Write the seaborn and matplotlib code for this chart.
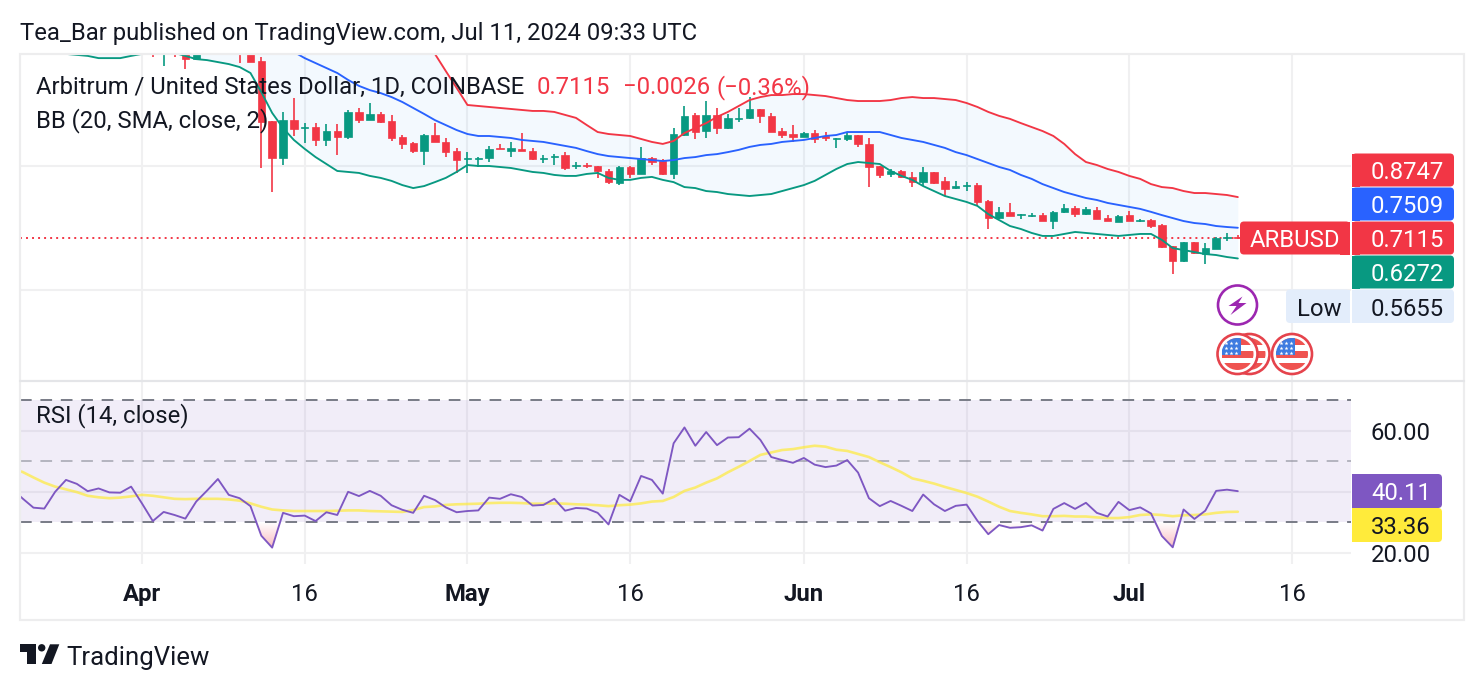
import numpy as np
import pandas as pd
import seaborn as sns
import matplotlib
matplotlib.use("Agg")
import matplotlib.pyplot as plt
import matplotlib.dates as mdates
from matplotlib.colors import LinearSegmentedColormap
from matplotlib.patches import Circle, FancyBboxPatch, PathPatch, Polygon, Rectangle
from matplotlib.path import Path

# Daily ARB/USD candles, 2 Apr 2024 to 11 Jul 2024 (early highs run off the top of the pane)
opens = [1.56, 1.47, 1.53, 1.50, 1.431, 1.50, 1.52, 1.49, 1.57, 1.50,
         1.423, 1.181, 1.032, 1.185, 1.153, 1.157, 1.105, 1.141, 1.117, 1.218,
         1.185, 1.210, 1.181, 1.117, 1.093, 1.060, 1.125, 1.097, 1.060, 1.028,
         1.028, 1.032, 1.073, 1.060, 1.069, 1.060, 1.028, 1.036, 1.044, 1.000,
         1.004, 1.000, 0.980, 0.931, 0.996, 0.968, 1.032, 1.020, 0.968, 1.125,
         1.206, 1.141, 1.206, 1.153, 1.190, 1.194, 1.230, 1.202, 1.141, 1.129,
         1.117, 1.133, 1.121, 1.109, 1.109, 1.125, 1.089, 1.000, 0.968, 0.980,
         0.956, 0.935, 0.976, 0.940, 0.911, 0.919, 0.923, 0.859, 0.790, 0.815,
         0.802, 0.798, 0.802, 0.778, 0.815, 0.831, 0.806, 0.823, 0.790, 0.774,
         0.802, 0.778, 0.782, 0.762, 0.677, 0.617, 0.694, 0.645, 0.665, 0.711, 0.7141]
highs = [1.60, 1.55, 1.57, 1.55, 1.53, 1.56, 1.58, 1.60, 1.65, 1.53,
         1.439, 1.181, 1.218, 1.274, 1.173, 1.173, 1.169, 1.169, 1.226, 1.234,
         1.254, 1.218, 1.206, 1.125, 1.097, 1.129, 1.173, 1.113, 1.073, 1.056,
         1.036, 1.081, 1.089, 1.097, 1.133, 1.073, 1.044, 1.048, 1.056, 1.016,
         1.012, 1.000, 0.988, 1.000, 1.000, 1.077, 1.036, 1.028, 1.153, 1.242,
         1.214, 1.262, 1.234, 1.210, 1.234, 1.278, 1.230, 1.214, 1.153, 1.165,
         1.137, 1.145, 1.137, 1.113, 1.137, 1.125, 1.113, 1.000, 0.988, 0.984,
         0.976, 0.996, 0.976, 0.956, 0.940, 0.935, 0.931, 0.863, 0.835, 0.851,
         0.806, 0.811, 0.811, 0.819, 0.847, 0.839, 0.835, 0.835, 0.802, 0.802,
         0.819, 0.786, 0.786, 0.766, 0.677, 0.694, 0.694, 0.690, 0.714, 0.730, 0.722]
lows = [1.439, 1.403, 1.439, 1.391, 1.431, 1.47, 1.46, 1.47, 1.415, 1.419,
        0.992, 0.895, 1.004, 1.121, 1.093, 1.081, 1.081, 1.044, 1.109, 1.173,
        1.185, 1.173, 1.101, 1.069, 1.052, 1.004, 1.097, 1.036, 0.972, 0.972,
        0.996, 1.016, 1.069, 1.036, 1.060, 1.024, 1.012, 1.004, 0.984, 0.988,
        0.992, 0.952, 0.927, 0.923, 0.952, 0.968, 1.004, 0.964, 0.948, 1.121,
        1.109, 1.113, 1.129, 1.149, 1.177, 1.190, 1.173, 1.137, 1.113, 1.097,
        1.117, 1.093, 1.101, 1.073, 1.101, 1.077, 0.915, 0.952, 0.956, 0.952,
        0.915, 0.919, 0.927, 0.879, 0.907, 0.899, 0.839, 0.746, 0.786, 0.798,
        0.786, 0.794, 0.778, 0.746, 0.811, 0.794, 0.802, 0.786, 0.778, 0.774,
        0.778, 0.774, 0.750, 0.669, 0.5655, 0.613, 0.645, 0.605, 0.665, 0.698, 0.706]
closes = [1.49, 1.53, 1.47, 1.431, 1.50, 1.52, 1.49, 1.57, 1.50, 1.42,
          1.177, 1.032, 1.185, 1.149, 1.157, 1.105, 1.141, 1.117, 1.218, 1.185,
          1.210, 1.177, 1.113, 1.089, 1.060, 1.125, 1.097, 1.056, 1.024, 1.032,
          1.032, 1.069, 1.069, 1.073, 1.060, 1.028, 1.032, 1.040, 0.992, 1.004,
          1.000, 0.980, 0.935, 0.996, 0.968, 1.032, 1.016, 0.968, 1.129, 1.202,
          1.137, 1.206, 1.153, 1.194, 1.194, 1.230, 1.202, 1.137, 1.125, 1.117,
          1.133, 1.109, 1.113, 1.113, 1.125, 1.089, 0.996, 0.964, 0.980, 0.956,
          0.935, 0.976, 0.931, 0.907, 0.919, 0.923, 0.855, 0.790, 0.815, 0.798,
          0.806, 0.802, 0.778, 0.815, 0.831, 0.806, 0.827, 0.786, 0.778, 0.798,
          0.778, 0.782, 0.758, 0.673, 0.617, 0.694, 0.649, 0.669, 0.710, 0.7141, 0.7115]

# Bollinger bands, all series end on 11 Jul; the start of each is off-pane where it runs high
bb_upper = [1.72, 1.72, 1.73, 1.73, 1.74, 1.74, 1.75, 1.75, 1.76, 1.76,
            1.76, 1.76, 1.76, 1.76, 1.76, 1.75, 1.75, 1.74, 1.74, 1.73,
            1.72, 1.71, 1.70, 1.69, 1.68, 1.67, 1.66, 1.65, 1.63, 1.62,
            1.60, 1.57, 1.53, 1.49,
            1.452, 1.383, 1.315, 1.246, 1.242, 1.238, 1.234, 1.230, 1.226, 1.222,
            1.222, 1.218, 1.206, 1.194, 1.165, 1.137, 1.129, 1.125, 1.121, 1.109,
            1.097, 1.089, 1.101, 1.133, 1.153, 1.173, 1.198, 1.218, 1.242, 1.266,
            1.278, 1.286, 1.286, 1.290, 1.290, 1.286, 1.282, 1.274, 1.266, 1.262,
            1.262, 1.262, 1.266, 1.274, 1.278, 1.274, 1.274, 1.270, 1.266, 1.254,
            1.238, 1.218, 1.202, 1.190, 1.173, 1.157, 1.141, 1.121, 1.089, 1.048,
            1.016, 1.004, 0.988, 0.976, 0.960, 0.948, 0.927, 0.915, 0.911, 0.899,
            0.891, 0.891, 0.887, 0.883, 0.8747]
bb_middle = [1.62, 1.62, 1.61, 1.61, 1.60, 1.60, 1.60, 1.59, 1.59, 1.59,
             1.58, 1.58, 1.57, 1.57, 1.56, 1.55, 1.54, 1.53, 1.51, 1.50, 1.48,
             1.460, 1.435, 1.415, 1.395, 1.375, 1.347, 1.323, 1.306, 1.294, 1.278,
             1.258, 1.234, 1.210, 1.185, 1.165, 1.145, 1.129, 1.121, 1.121, 1.117,
             1.113, 1.105, 1.101, 1.097, 1.089, 1.081, 1.073, 1.060, 1.048, 1.040,
             1.036, 1.032, 1.028, 1.024, 1.020, 1.024, 1.032, 1.036, 1.044, 1.048,
             1.056, 1.065, 1.077, 1.085, 1.089, 1.097, 1.101, 1.105, 1.113, 1.121,
             1.125, 1.137, 1.137, 1.137, 1.137, 1.125, 1.113, 1.105, 1.097, 1.085,
             1.073, 1.056, 1.044, 1.028, 1.012, 0.996, 0.984, 0.964, 0.948, 0.927,
             0.911, 0.895, 0.883, 0.871, 0.863, 0.851, 0.843, 0.835, 0.827, 0.815,
             0.802, 0.790, 0.778, 0.770, 0.766, 0.758, 0.754, 0.7509]
bb_lower = [1.452, 1.448, 1.444, 1.435, 1.435, 1.435, 1.444, 1.452, 1.460, 1.464,
            1.456, 1.444, 1.431, 1.427, 1.419, 1.411, 1.399, 1.375, 1.298, 1.214,
            1.153, 1.105, 1.069, 1.036, 1.008, 0.980, 0.976, 0.972, 0.960, 0.952,
            0.940, 0.923, 0.911, 0.919, 0.935, 0.952, 0.976, 1.004, 1.000, 1.000,
            0.996, 0.992, 0.984, 0.976, 0.972, 0.964, 0.960, 0.960, 0.968, 0.972,
            0.952, 0.944, 0.944, 0.952, 0.956, 0.944, 0.935, 0.915, 0.911, 0.899,
            0.895, 0.887, 0.883, 0.879, 0.883, 0.887, 0.899, 0.911, 0.923, 0.940,
            0.964, 0.988, 1.008, 1.016, 1.012, 1.008, 0.980, 0.960, 0.944, 0.919,
            0.899, 0.879, 0.867, 0.855, 0.839, 0.806, 0.782, 0.758, 0.746, 0.730,
            0.718, 0.718, 0.726, 0.734, 0.730, 0.726, 0.722, 0.718, 0.722, 0.726,
            0.726, 0.702, 0.669, 0.661, 0.653, 0.645, 0.641, 0.633, 0.6272]

# RSI(14) and its moving average from 20 Mar 2024
rsi_values = [41.0, 37.7, 34.7, 34.4, 39.9, 43.8, 42.5, 40.1, 41.0, 39.7, 39.6, 41.6,
              36.1, 30.3, 33.3, 32.3, 31.1, 36.7, 40.3, 44.1, 38.9, 37.8, 35.2, 25.5,
              21.6, 33.0, 31.9, 32.1, 30.3, 33.2, 32.3, 39.9, 38.5, 40.2, 38.6, 35.5,
              34.0, 33.0, 38.6, 37.2, 34.8, 33.2, 33.6, 33.8, 38.0, 37.6, 39.1, 38.2,
              35.4, 35.6, 37.6, 33.7, 34.6, 34.4, 33.0, 29.2, 38.9, 36.8, 45.1, 43.8,
              39.3, 55.8, 61.0, 55.0, 59.5, 55.2, 57.7, 57.8, 60.6, 56.9, 51.3, 50.3,
              49.4, 51.0, 48.8, 48.0, 48.5, 50.3, 46.2, 37.8, 35.2, 36.9, 35.3, 33.6,
              39.0, 35.8, 33.6, 35.3, 35.7, 30.4, 26.0, 29.0, 28.1, 28.3, 28.9, 27.2,
              34.3, 36.2, 34.3, 36.3, 33.0, 31.8, 36.6, 33.9, 34.8, 32.8, 25.4, 21.7,
              34.1, 31.0, 33.7, 40.2, 40.6, 40.11]
rsi_ma = [47.4, 46.4, 44.6, 42.9, 41.6, 40.7, 39.8, 38.6, 38.1, 37.8, 38.0, 38.4,
          38.9, 38.6, 38.1, 37.6, 37.5, 37.6, 37.6, 37.6, 37.4, 37.0, 36.1, 35.0,
          34.1, 33.8, 33.6, 33.6, 33.6, 33.6, 33.7, 33.8, 33.8, 33.6, 33.5, 33.4,
          33.3, 33.9, 34.9, 35.1, 35.6, 35.8, 35.9, 36.0, 36.2, 36.3, 36.3, 36.2,
          36.0, 36.0, 36.1, 36.0, 35.8, 35.7, 35.5, 35.2, 35.5, 35.7, 36.1, 36.7,
          36.9, 38.2, 40.2, 41.3, 42.9, 44.3, 46.3, 48.1, 50.0, 52.0, 52.8, 53.6,
          53.9, 54.5, 55.0, 54.7, 53.7, 53.3, 52.3, 51.3, 49.6, 48.0, 46.3, 44.3,
          43.5, 42.6, 41.5, 40.5, 39.5, 38.3, 36.7, 35.0, 33.6, 33.0, 32.5, 31.9,
          31.9, 32.0, 31.8, 31.8, 31.5, 31.3, 31.3, 31.6, 32.3, 32.5, 32.3, 31.9,
          32.2, 32.3, 32.5, 33.0, 33.3, 33.36]

last_close = 0.7115
rsi_bands = [70, 50, 30]
rsi_grid = [20, 40, 60]
price_grid = [0.5, 1.0]
tick_dates = ["2024-04-01", "2024-04-16", "2024-05-01", "2024-05-16",
              "2024-06-01", "2024-06-16", "2024-07-01", "2024-07-16"]
tick_labels = ["Apr", "16", "May", "16", "Jun", "16", "Jul", "16"]

RED = "#F23645"
GREEN = "#089981"
BLUE = "#2962FF"
PURPLE = "#7E57C2"
YELLOW = "#FFEB3B"
INK = "#131722"
GRID = "#F0F0F1"
FRAME = "#EDEDEE"
TEXT_SIZE = 17.2

sns.set_theme(style="white", rc={"axes.grid": False})
plt.rcParams["font.family"] = ["Roboto", "DejaVu Sans"]


def tail_series(values, index):
    """Align a list that ends on the last session to the full date index."""
    return pd.Series(values, index=index[-len(values):], dtype=float).reindex(index)


days = pd.date_range("2024-03-20", "2024-07-11", freq="D")
df = pd.DataFrame({
    "date": days,
    "open": tail_series(opens, days).values,
    "high": tail_series(highs, days).values,
    "low": tail_series(lows, days).values,
    "close": tail_series(closes, days).values,
    "bb_upper": tail_series(bb_upper, days).values,
    "bb_middle": tail_series(bb_middle, days).values,
    "bb_lower": tail_series(bb_lower, days).values,
    "rsi": tail_series(rsi_values, days).values,
    "rsi_ma": tail_series(rsi_ma, days).values,
})

W, H = 1484, 690
fig = plt.figure(figsize=(W / 100, H / 100), dpi=100, facecolor="white")


def pane(x0, y0, x1, y1):
    return fig.add_axes([x0 / W, 1 - y1 / H, (x1 - x0) / W, (y1 - y0) / H])


ax_price = pane(20, 54, 1351, 380)
ax_rsi = pane(20, 382, 1351, 564)

x_left = mdates.date2num(pd.Timestamp("2024-04-01")) - 11.24
x_right = mdates.date2num(pd.Timestamp("2024-04-01")) + 111.43
ticks = mdates.date2num(pd.to_datetime(tick_dates))

for ax in (ax_price, ax_rsi):
    for spine in ax.spines.values():
        spine.set_visible(False)
    ax.set_axisbelow(True)
    ax.grid(True, color=GRID, lw=1.5)
    ax.set_xticks(ticks)

# Price pane: bands first, candles, then band lines on top
ax_price.fill_between(df["date"], df["bb_lower"], df["bb_upper"], color="#2196F3", alpha=0.05, lw=0, zorder=1)
ax_price.axhline(last_close, color=RED, lw=1.4, ls=(0, (1.0, 2.1)), zorder=2)

candles = df.dropna(subset=["open"])
rising = candles[candles["close"] >= candles["open"]]
falling = candles[candles["close"] < candles["open"]]
for part, colour in ((rising, GREEN), (falling, RED)):
    ax_price.vlines(part["date"], part["low"], part["high"], color=colour, lw=1.2, zorder=3)
    ax_price.bar(part["date"], (part["close"] - part["open"]).abs(),
                 bottom=part[["open", "close"]].min(axis=1), width=0.68,
                 color=colour, edgecolor=colour, lw=0.5, zorder=4)

for column, colour in (("bb_upper", RED), ("bb_middle", BLUE), ("bb_lower", GREEN)):
    sns.lineplot(data=df, x="date", y=column, color=colour, lw=1.35, ax=ax_price, zorder=5, errorbar=None)

ax_price.set_xlim(x_left, x_right)
ax_price.set_ylim(1 + (166 - 380) / 248, 1 + (166 - 54) / 248)
ax_price.set_yticks(price_grid)
ax_price.tick_params(labelbottom=False, labelleft=False, length=0)
ax_price.set_xlabel("")
ax_price.set_ylabel("")

# RSI pane
ax_rsi.axhspan(rsi_bands[2], rsi_bands[0], color=PURPLE, alpha=0.1, lw=0, zorder=1)
ax_rsi.axhline(rsi_bands[0], color="#787B86", lw=1.4, ls=(0, (6, 4.5)), zorder=2)
ax_rsi.axhline(rsi_bands[1], color="#787B86", alpha=0.5, lw=1.4, ls=(0, (6, 4.5)), zorder=2)
ax_rsi.axhline(rsi_bands[2], color="#787B86", lw=1.4, ls=(0, (6, 4.5)), zorder=2)

# Oversold dips shaded with a soft vertical gradient, deepest at the bottom
dip = ax_rsi.fill_between(df["date"], df["rsi"], rsi_bands[2], where=df["rsi"] < rsi_bands[2],
                          interpolate=True, facecolor="none", lw=0)
dip_path = Path.make_compound_path(*dip.get_paths())
dip_cmap = LinearSegmentedColormap.from_list("dip", ["#FFFFFF", "#F9AEB4"])
gradient = ax_rsi.imshow(np.linspace(0, 1, 64).reshape(-1, 1), cmap=dip_cmap, aspect="auto", zorder=1.5,
                         extent=[x_left, x_right, 20, 30], interpolation="bilinear")
gradient.set_clip_path(PathPatch(dip_path, transform=ax_rsi.transData))

sns.lineplot(data=df, x="date", y="rsi_ma", color=YELLOW, lw=1.9, alpha=0.7, ax=ax_rsi, zorder=3, errorbar=None)
sns.lineplot(data=df, x="date", y="rsi", color=PURPLE, lw=1.35, ax=ax_rsi, zorder=4, errorbar=None)

ax_rsi.set_xlim(x_left, x_right)
ax_rsi.set_ylim(70 - (564 - 400) / 3.05, 70 + (400 - 382) / 3.05)
ax_rsi.set_yticks(rsi_grid)
ax_rsi.set_yticklabels([f"{v:.2f}" for v in rsi_grid])
ax_rsi.yaxis.tick_right()
ax_rsi.tick_params(axis="y", length=0, pad=14, labelsize=TEXT_SIZE, labelcolor=INK)
ax_rsi.set_xticklabels(tick_labels)
ax_rsi.tick_params(axis="x", length=0, pad=13.5, labelsize=TEXT_SIZE, labelcolor=INK)
for tick_label, text in zip(ax_rsi.get_xticklabels(), tick_labels):
    if not text.isdigit():
        tick_label.set_fontweight("bold")
ax_rsi.set_xlabel("")
ax_rsi.set_ylabel("")

# Overlay in pixel coordinates for frame, legends, price badges and event icons
chrome = fig.add_axes([0, 0, 1, 1], zorder=10)
chrome.set_xlim(0, W)
chrome.set_ylim(H, 0)
chrome.axis("off")
chrome.patch.set_alpha(0)

chrome.add_patch(Rectangle((20, 54), 1444, 566, fill=False, ec=FRAME, lw=1.6))
chrome.plot([20, 1464], [381, 381], color="#E4E5E8", lw=1.6)


def badge(x0, y0, x1, y1, colour, square_left=True):
    chrome.add_patch(FancyBboxPatch((x0 + 3, y0 + 3), x1 - x0 - 6, y1 - y0 - 6,
                                    boxstyle="round,pad=3,rounding_size=4", fc=colour, ec="none"))
    if square_left:
        chrome.add_patch(Rectangle((x0, y0), 8, y1 - y0, fc=colour, ec="none"))


def label(x, y, text, colour=INK, size=TEXT_SIZE, ha="left", weight="normal"):
    chrome.text(x, y, text, color=colour, fontsize=size, ha=ha, va="center_baseline", fontweight=weight)


label(20, 31, "Tea_Bar published on TradingView.com, Jul 11, 2024 09:33 UTC")
label(36, 85, "Arbitrum / United States Dollar, 1D, COINBASE")
label(537, 85, "0.7115", colour=RED)
label(623, 85, "\u22120.0026", colour=RED)
label(717, 85, "(\u22120.36%)", colour=RED)
label(36, 118, "BB (20, SMA, close, 2)")
label(36, 412.5, "RSI (14, close)")

for (y0, y1, colour, text) in ((153.5, 186.5, RED, "0.8747"), (187.5, 220.5, BLUE, "0.7509"),
                               (221.5, 254.5, RED, "0.7115"), (255.5, 288.5, GREEN, "0.6272")):
    badge(1352, y0, 1454, y1, colour)
    label(1371, (y0 + y1) / 2, text, colour="white")
badge(1352, 289.5, 1454, 323, "#E3EDFB")
label(1371, 306.5, "0.5655")

chrome.add_patch(FancyBboxPatch((1243, 224.5), 104, 27, boxstyle="round,pad=3,rounding_size=4", fc=RED, ec="none"))
chrome.add_patch(Rectangle((1340, 221.5), 10, 33, fc=RED, ec="none"))
label(1250, 238, "ARBUSD", colour="white")
chrome.add_patch(FancyBboxPatch((1289, 292.5), 58, 27.5, boxstyle="round,pad=3,rounding_size=4", fc="#E3EDFB", ec="none"))
chrome.add_patch(Rectangle((1340, 289.5), 10, 33.5, fc="#E3EDFB", ec="none"))
label(1297, 306.5, "Low")

badge(1352, 474, 1442, 508, PURPLE)
label(1371, 491, "40.11", colour="white")
badge(1352, 508, 1442, 542, YELLOW)
label(1371, 525, "33.36")

# Lightning event marker
cx, cy = 1237.5, 305
chrome.add_patch(Circle((cx, cy), 19.5, fc="white", ec="#9C27B0", lw=1.9))
bolt = [(5, -8.5), (-9, 1), (-1, 1), (-7, 10), (9, -2), (1, -2)]
chrome.add_patch(Polygon([(cx + dx, cy + dy) for dx, dy in bolt], fc="#9C27B0", ec="none"))


def us_flag(cx, cy):
    """Round US economic-event marker built from plain patches."""
    chrome.add_patch(Circle((cx, cy), 20, fc="white", ec="#E5434C", lw=1.9))
    disc = Circle((cx, cy), 16, transform=chrome.transData)
    for top, bottom in ((-16, -9), (-3, 4), (9, 16)):
        stripe = chrome.add_patch(Rectangle((cx - 16, cy + top), 32, bottom - top, fc="#EF5350", ec="none"))
        stripe.set_clip_path(disc)
    canton = chrome.add_patch(Rectangle((cx - 16, cy - 16), 19, 17, fc="#3D7BE0", ec="none"))
    canton.set_clip_path(disc)
    for dy in (-11.5, -6.5, -1.5):
        chrome.scatter([cx + dx for dx in (-11.5, -6.5, -1.5)], [cy + dy] * 3, s=9, c="white", marker="*", lw=0)


us_flag(1249.5, 354)
us_flag(1237.5, 354)
us_flag(1292, 354)

# TradingView wordmark
chrome.add_patch(Polygon([(20, 644.3), (36, 644.3), (36, 664), (27, 664), (27, 652), (20, 652)], fc=INK, ec="none"))
chrome.add_patch(Circle((41.7, 647.8), 3.7, fc=INK, ec="none"))
chrome.add_patch(Polygon([(50, 644.3), (59.3, 644.3), (51.5, 664), (41.8, 664)], fc=INK, ec="none"))
label(66, 655.5, "TradingView", size=18.5)

fig.savefig("out.png", dpi=100)
